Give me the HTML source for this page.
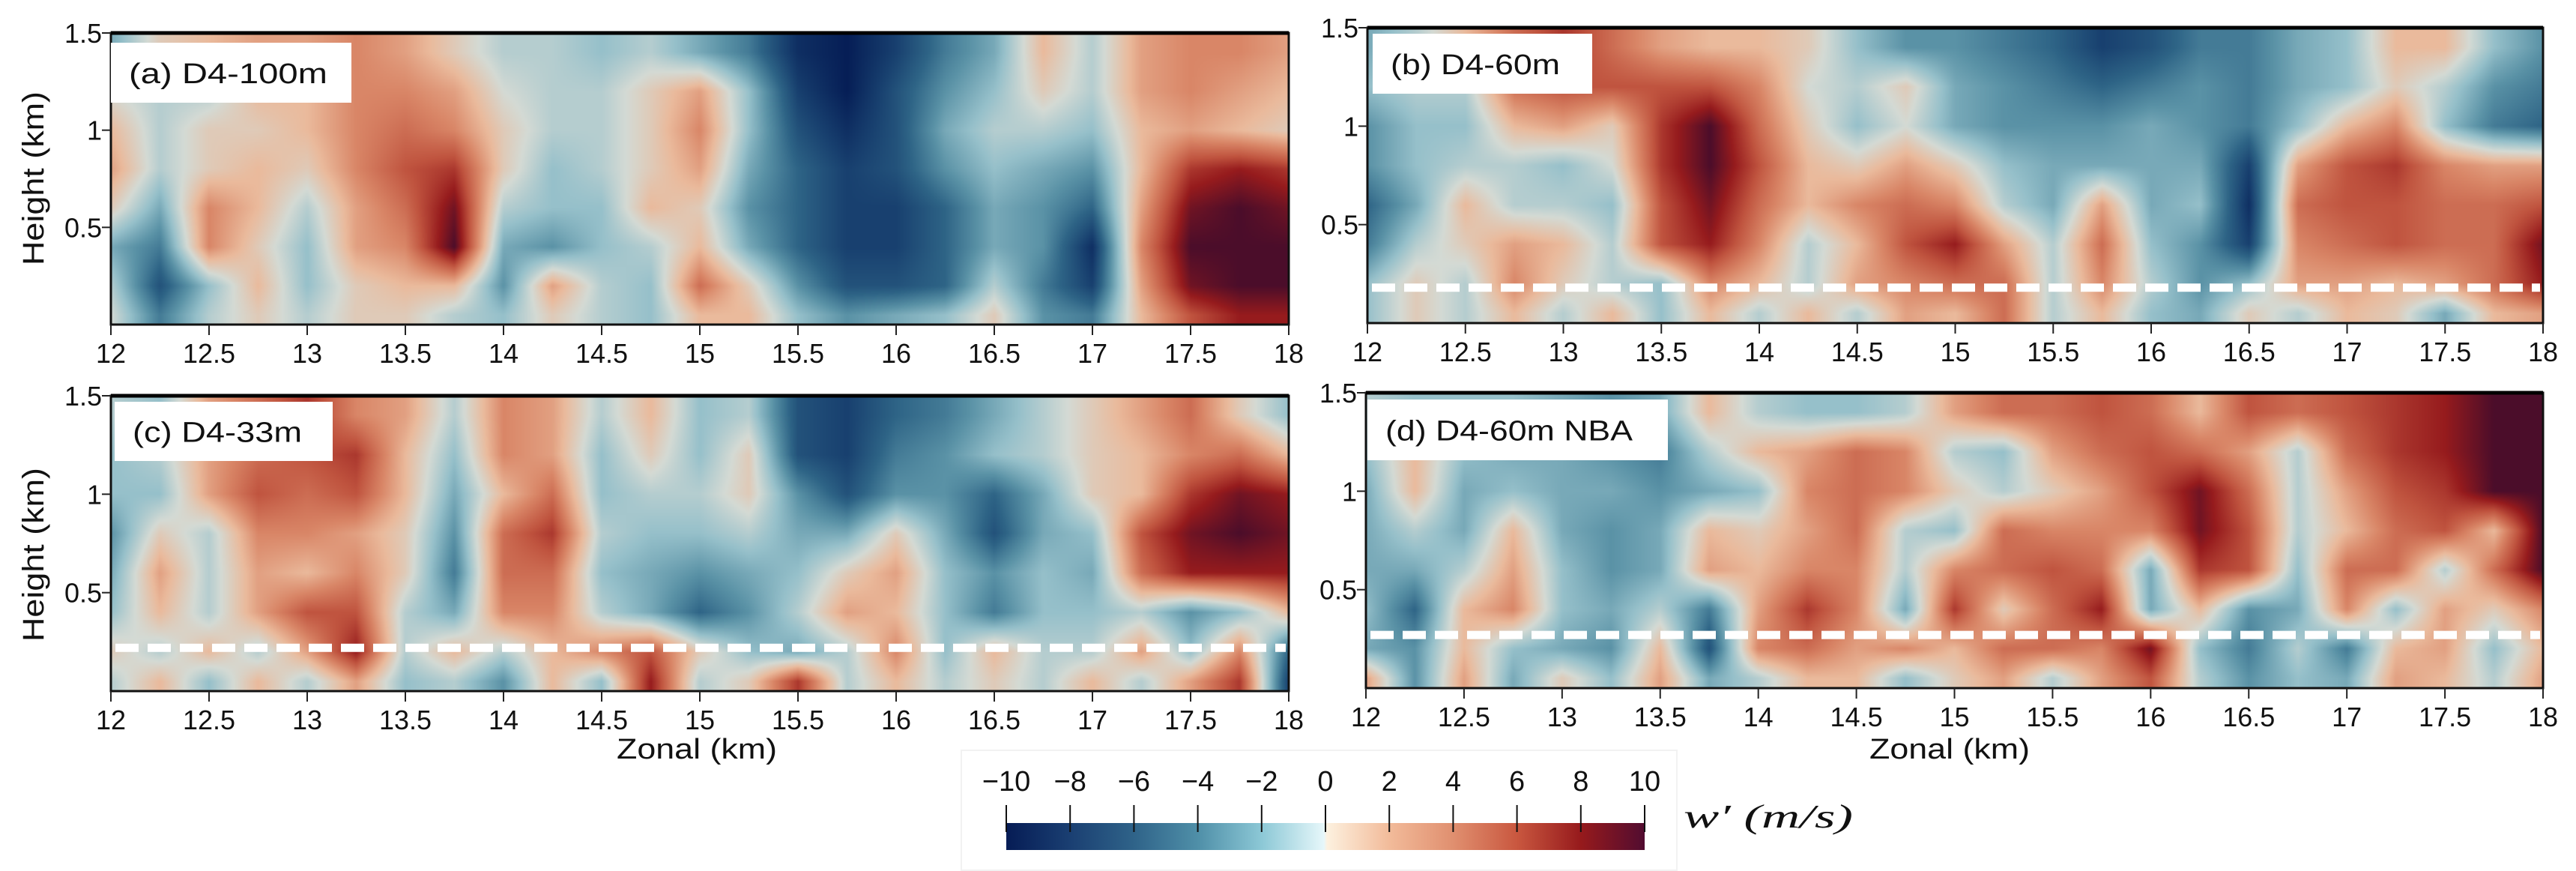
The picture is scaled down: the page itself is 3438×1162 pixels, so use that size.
<!DOCTYPE html>
<html><head><meta charset="utf-8">
<style>
html,body{margin:0;padding:0;background:#fff;}
#root{position:relative;width:3438px;height:1162px;overflow:hidden;background:#fff;font-family:"Liberation Sans",sans-serif;}
canvas{position:absolute;}
svg{position:absolute;left:0;top:0;}
</style></head>
<body>
<div id="root">
<canvas id="cv-a"></canvas>
<canvas id="cv-b"></canvas>
<canvas id="cv-c"></canvas>
<canvas id="cv-d"></canvas>
<svg id="ov" width="3438" height="1162"></svg>
</div>
<script>
// ---- data ----
const zonalKm = [12,12.25,12.5,12.75,13,13.25,13.5,13.75,14,14.25,14.5,14.75,15,15.25,15.5,15.75,16,16.25,16.5,16.75,17,17.25,17.5,17.75,18];
const heightKm = [1.4,1.2,1.0,0.8,0.6,0.4,0.2,0.05];
const xTickLabels = ["12","12.5","13","13.5","14","14.5","15","15.5","16","16.5","17","17.5","18"];
const yTickLabels = ["1.5","1","0.5"];
const yTickValues = [1.5,1.0,0.5];
const cbTicks = [-10,-8,-6,-4,-2,0,2,4,6,8,10];
const wA = [
[-3,1,2,3,3,4,3,1,-1,-1,-2,-1,-3,-5,-9,-10,-8,-5,-3,2,-1,3,4,4,3],
[0,-1,-1,2,2,4,4,3,0,-1,-1,1,3,-2,-8,-10,-7,-4,-2,1,-1,3,4,3,2],
[2,-1,1,1,2,4,5,4,1,-1,-1,1,4,-2,-7,-9,-7,-3,-1,-1,-2,2,3,2,1],
[3,-1,1,2,1,4,6,7,1,-2,-1,1,3,-3,-6,-8,-7,-4,-2,-3,-4,2,7,8,7],
[1,-3,4,2,-1,3,5,9,-1,-2,-2,2,1,-4,-6,-8,-8,-6,-3,-4,-6,3,9,10,9],
[-3,-5,4,1,-2,3,4,10,-3,-4,-2,-1,2,-3,-6,-8,-8,-6,-3,-4,-9,4,10,10,10],
[-1,-7,-2,2,-2,1,2,2,-4,3,-1,-2,5,1,-4,-7,-7,-6,-1,-5,-8,3,9,10,10],
[0,-5,-1,1,-1,1,1,-1,-2,1,-1,-2,2,2,-2,-4,-3,-2,1,-4,-5,2,6,8,8]];
const wB = [
[-3,-1,2,5,7,5,3,2,2,1,-2,-4,-4,-5,-6,-8,-7,-5,-5,-3,-2,2,2,-2,-4],
[-2,-1,-1,5,6,6,6,6,4,0,-1,1,-3,-4,-5,-6,-5,-4,-5,-3,-2,1,-1,-4,-5],
[-4,-2,-2,2,3,1,7,10,5,1,-2,0,-3,-4,-4,-4,-3,-4,-5,-2,2,4,-2,-5,-6],
[-4,-2,-1,-1,-2,0,7,10,6,2,1,3,1,-2,-3,-3,-3,-3,-8,3,6,7,4,3,3],
[-6,-3,2,-1,-1,-2,6,9,5,2,4,5,4,-1,-3,3,-3,-2,-9,5,6,6,5,5,6],
[-5,-1,1,3,2,-1,6,8,4,-1,2,6,8,3,-1,5,-2,-4,-8,4,5,6,5,5,9],
[-2,1,-1,4,1,-1,-2,4,2,-1,3,4,5,5,-1,4,-1,-4,-2,3,3,2,3,5,8],
[-2,1,-1,2,-1,2,-2,2,-1,2,-1,3,2,5,-1,2,-2,-3,1,-1,2,1,-3,2,3]];
const wC = [
[-1,-2,3,5,7,4,3,-1,4,3,-1,2,-2,-1,-7,-8,-6,-5,-3,-1,1,3,5,1,-2],
[-2,-1,3,5,6,7,2,-2,4,3,-2,1,-2,1,-7,-8,-5,-4,-2,-1,1,2,4,5,2],
[-2,-2,3,6,5,6,2,-3,2,5,-2,-1,-1,1,-4,-7,-4,-4,-6,-3,1,2,7,9,8],
[-4,1,-1,4,4,3,1,-4,5,7,-1,-2,-2,-1,-3,-3,1,-3,-7,-3,-2,6,9,10,9],
[-3,3,-1,3,2,4,1,-5,5,5,-2,-3,-4,-3,-2,1,3,-2,-4,-2,-3,5,8,8,8],
[-2,2,-1,3,6,6,-1,-3,4,4,-1,-3,-6,-4,-1,3,2,-2,-5,-2,-2,-1,-4,-2,2],
[1,-1,2,-1,3,8,-1,2,-1,2,4,6,1,-2,-3,-1,4,-2,2,-1,-1,3,-2,4,-6],
[-1,2,-2,2,-1,3,-2,-1,-4,2,-2,8,-1,1,7,-1,2,-1,1,-1,2,-1,3,7,-8]];
const wD = [
[-1,-2,-2,-2,-3,-4,-3,2,-1,-2,-2,-1,3,5,5,6,5,2,6,5,6,7,8,10,10],
[-2,2,-2,-3,-3,-4,-5,-1,2,3,5,4,-1,-2,3,5,6,5,3,-1,5,7,8,10,10],
[-3,2,-3,-2,-3,-3,-4,-3,-2,4,5,4,1,-1,1,3,6,9,5,-1,3,6,7,10,10],
[-3,-1,-3,2,-3,-4,-3,2,1,3,5,-1,-2,5,4,4,4,9,6,-1,2,5,6,2,10],
[-3,-3,-1,3,-2,-4,-3,3,2,4,4,-1,4,5,6,5,-3,7,6,-2,5,5,-1,5,10],
[-2,-6,2,4,-2,-3,-1,-5,3,7,4,-3,7,1,5,8,-3,2,-4,-3,4,-2,3,1,4],
[-3,-4,2,-2,-3,-4,2,-7,4,5,3,4,2,5,5,4,9,-2,-5,-1,-5,2,3,-2,2],
[3,-4,3,-3,1,-2,3,-3,-1,2,2,-2,1,3,-1,3,6,-1,-4,-2,-3,3,2,-1,3]];
const dashedHeights = {a:null,b:0.18,c:0.22,d:0.27};

// ---- layout ----
const panels = [
 {id:'a',label:'(a)  D4-100m',data:wA,x0:148,x1:1720,y0:44,y1:433,box:[148,57,321,80],lw:265},
 {id:'b',label:'(b)  D4-60m',data:wB,x0:1825,x1:3394,y0:37,y1:431,box:[1832,45,293,80],lw:226},
 {id:'c',label:'(c)  D4-33m',data:wC,x0:148,x1:1720,y0:528,y1:922,box:[153,536,291,79],lw:226},
 {id:'d',label:'(d)  D4-60m NBA',data:wD,x0:1823,x1:3394,y0:524,y1:918,box:[1825,533,401,81],lw:330}
];
const stops = [[-10,[6,30,86]],[-8,[24,64,111]],[-6,[46,100,134]],[-4,[90,146,166]],[-2,[150,192,202]],[0,[212,218,212]],[2,[234,186,156]],[4,[217,134,103]],[6,[192,84,63]],[8,[150,27,29]],[10,[75,13,42]]];
function colorOf(v){
  if(v<=-10) return stops[0][1];
  if(v>=10) return stops[stops.length-1][1];
  for(let i=0;i<stops.length-1;i++){
    if(v>=stops[i][0]&&v<=stops[i+1][0]){
      const t=(v-stops[i][0])/(stops[i+1][0]-stops[i][0]);
      const a=stops[i][1],b=stops[i+1][1];
      return [a[0]+(b[0]-a[0])*t,a[1]+(b[1]-a[1])*t,a[2]+(b[2]-a[2])*t];
    }
  }
}
function sample(data,xk,hk){
  let cx=(xk-zonalKm[0])/(zonalKm[1]-zonalKm[0]);
  cx=Math.max(0,Math.min(zonalKm.length-1.0001,cx));
  const i=Math.floor(cx),tx=cx-i;
  let j=0,ty=0;
  if(hk>=heightKm[0]){j=0;ty=0;}
  else if(hk<=heightKm[heightKm.length-1]){j=heightKm.length-2;ty=1;}
  else{
    for(j=0;j<heightKm.length-1;j++){ if(hk<=heightKm[j]&&hk>=heightKm[j+1]) break; }
    ty=(heightKm[j]-hk)/(heightKm[j]-heightKm[j+1]);
  }
  const a=data[j][i],b=data[j][i+1],c=data[j+1][i],d=data[j+1][i+1];
  return (a*(1-tx)+b*tx)*(1-ty)+(c*(1-tx)+d*tx)*ty;
}
panels.forEach(p=>{
  const cv=document.getElementById('cv-'+p.id);
  const W=Math.round((p.x1-p.x0)/2),H=Math.round((p.y1-p.y0)/2);
  cv.width=W;cv.height=H;
  cv.style.left=p.x0+'px';cv.style.top=p.y0+'px';
  cv.style.width=(p.x1-p.x0)+'px';cv.style.height=(p.y1-p.y0)+'px';
  const ctx=cv.getContext('2d');
  const img=ctx.createImageData(W,H);
  for(let y=0;y<H;y++){
    const hk=1.5*(1-(y+0.5)/H);
    for(let x=0;x<W;x++){
      const xk=12+6*(x+0.5)/W;
      const col=colorOf(sample(p.data,xk,hk));
      const k=(y*W+x)*4;
      img.data[k]=col[0];img.data[k+1]=col[1];img.data[k+2]=col[2];img.data[k+3]=255;
    }
  }
  ctx.putImageData(img,0,0);
});

// ---- overlay ----
const NS='http://www.w3.org/2000/svg';
const ov=document.getElementById('ov');
function mk(tag,attrs,parent){
  const e=document.createElementNS(NS,tag);
  for(const k in attrs) e.setAttribute(k,attrs[k]);
  (parent||ov).appendChild(e);
  return e;
}
panels.forEach(p=>{
  const g=mk('g',{});
  
  
  const sx=v=>p.x0+(v-12)/6*(p.x1-p.x0);
  const sy=v=>p.y1-(v/1.5)*(p.y1-p.y0);
  if(dashedHeights[p.id]!==null){
    const dl=mk('line',{x1:p.x0+6,x2:p.x1-4,y1:sy(dashedHeights[p.id]),y2:sy(dashedHeights[p.id]),stroke:'#fff','stroke-width':11,'stroke-dasharray':'31 12'},g);
    
    
  }
  const fr=mk('rect',{x:p.x0,y:p.y0,width:p.x1-p.x0,height:p.y1-p.y0,fill:'none',stroke:'#111','stroke-width':3},g);
  
  
  mk('line',{x1:p.x0,x2:p.x1,y1:p.y0,y2:p.y0,stroke:'#000','stroke-width':5},g);
  xTickLabels.forEach((lab,i)=>{
    const v=parseFloat(lab),x=sx(v);
    mk('line',{x1:x,x2:x,y1:p.y1,y2:p.y1+14,stroke:'#222','stroke-width':2},g);
    const t=mk('text',{x:x,y:p.y1+51,'font-size':36,'text-anchor':'middle',fill:'#111'},g);
    t.textContent=lab;
    
    
  });
  yTickLabels.forEach((lab,i)=>{
    const y=sy(yTickValues[i]);
    mk('line',{x1:p.x0-12,x2:p.x0,y1:y,y2:y,stroke:'#222','stroke-width':2},g);
    const t=mk('text',{x:p.x0-12,y:y+13,'font-size':36,'text-anchor':'end',fill:'#111'},g);
    t.textContent=lab;
    
    
  });
  const b=p.box;
  const bx=mk('rect',{x:b[0],y:b[1],width:b[2],height:b[3],fill:'#fff'},g);
  
  
  const tt=mk('text',{x:b[0]+24,y:b[1]+b[3]/2+14,'font-size':38,fill:'#111',textLength:p.lw,lengthAdjust:'spacingAndGlyphs'},g);
  tt.textContent=p.label;
  
  
});
[[44,238],[44,740]].forEach(([x,y])=>{
  const t=mk('text',{x:x,y:y,'font-size':40,'text-anchor':'middle',fill:'#111',transform:'rotate(-90 '+x+' '+y+')',dy:14,textLength:232,lengthAdjust:'spacingAndGlyphs'});
  t.textContent='Height (km)';
  
  
});
[[930,1012],[2602,1012]].forEach(([x,y])=>{
  const t=mk('text',{x:x,y:y,'font-size':38,'text-anchor':'middle',fill:'#111',textLength:214,lengthAdjust:'spacingAndGlyphs'});
  t.textContent='Zonal (km)';
  
  
});
const cbX0=1343,cbX1=2195,cbY0=1098,cbY1=1134;
const cbBox=mk('rect',{x:1283,y:1001,width:955,height:160,fill:'#fff',stroke:'#f2f2f2','stroke-width':2});


const defs=mk('defs',{});
const lg=mk('linearGradient',{id:'cbg',x1:0,x2:1,y1:0,y2:0},defs);
const cbStops=[[-10,'#061c55'],[-8,'#1a3f72'],[-6,'#2f6389'],[-4,'#4f8fa8'],[-2,'#8cc8d6'],[-0.05,'#e6f7fa'],[0.05,'#fdf1df'],[2,'#f2bb9a'],[4,'#e08f6f'],[6,'#c9573f'],[8,'#961a1c'],[10,'#520c30']];
cbStops.forEach(s=>mk('stop',{offset:((s[0]+10)/20),'stop-color':s[1]},lg));
const cb=mk('rect',{x:cbX0,y:cbY0,width:cbX1-cbX0,height:cbY1-cbY0,fill:'url(#cbg)'});


cbTicks.forEach(v=>{
  const x=cbX0+(v+10)/20*(cbX1-cbX0);
  mk('line',{x1:x,x2:x,y1:1074,y2:1110,stroke:'#111','stroke-width':2});
  const t=mk('text',{x:x,y:1055,'font-size':38,'text-anchor':'middle',fill:'#111','font-family':'Liberation Sans Narrow, Liberation Sans, sans-serif'});
  t.textContent=(v<0?'\u2212':'')+Math.abs(v);
  
  
});
const wl=mk('text',{x:2247,y:1104,'font-size':44,fill:'#111','font-style':'italic','font-family':'Liberation Serif, serif',textLength:226,lengthAdjust:'spacingAndGlyphs'});
wl.textContent='w\u2032 (m/s)';


</script>
</body></html>
